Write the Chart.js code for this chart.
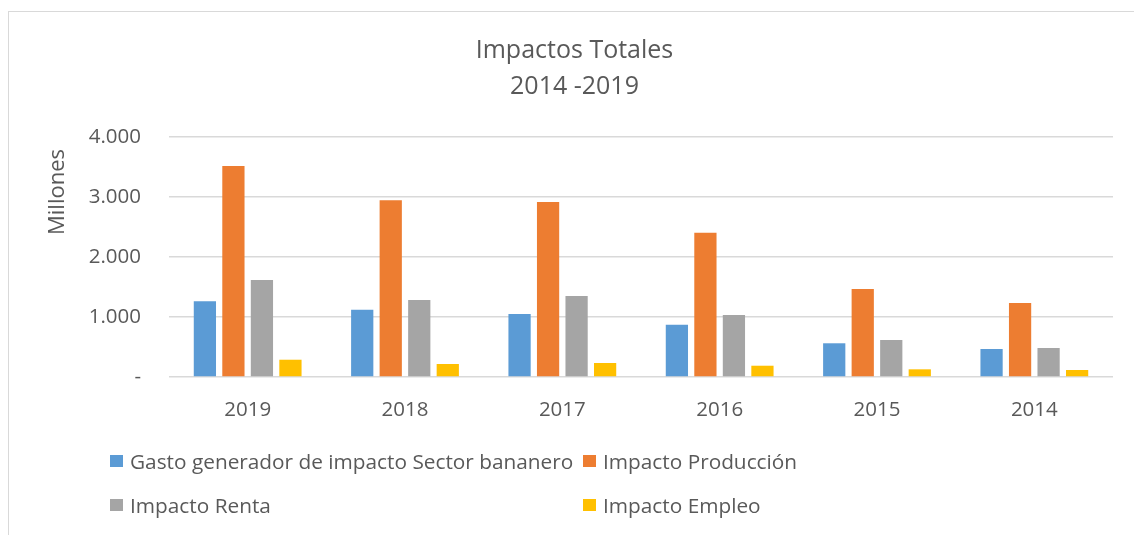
<!DOCTYPE html>
<html>
<head>
<meta charset="utf-8">
<script src="https://cdn.jsdelivr.net/npm/chart.js@4/dist/chart.umd.min.js"></script>
<style>
  html, body { margin: 0; padding: 0; background: #ffffff; }
  #wrap { position: relative; width: 1134px; height: 535px; overflow: hidden; }
  #frame { position: absolute; left: 8px; top: 11px; width: 1200px; height: 600px;
           border-left: 1px solid #d9d9d9; border-top: 1px solid #d9d9d9; box-sizing: border-box; }
  #c { position: absolute; left: 0; top: 0; }
  .leg { position: absolute; font-family: "Open Sans", sans-serif; font-size: 20.8px; color: #595959;
         white-space: nowrap; line-height: 24px; }
  .leg .sw { position: absolute; width: 13px; height: 12px; left: 0; top: 6px; }
  .leg .tx { position: absolute; left: 20px; top: 0; }
</style>
</head>
<body>
<div id="wrap">
  <div id="frame"></div>
  <canvas id="c" width="1134" height="535"></canvas>
  <div id="legend"></div>
</div>
<script>
const categories = ['2019', '2018', '2017', '2016', '2015', '2014'];
const gastoSector = [1262, 1122, 1050, 872, 562, 467];
const impactoProduccion = [3517, 2945, 2917, 2405, 1467, 1233];
const impactoRenta = [1617, 1283, 1350, 1033, 617, 483];
const impactoEmpleo = [288, 217, 233, 188, 128, 117];
const seriesNames = ['Gasto generador de impacto Sector bananero', 'Impacto Producción', 'Impacto Renta', 'Impacto Empleo'];
const seriesColors = ['#5B9BD5', '#ED7D31', '#A5A5A5', '#FFC000'];
const titleLines = ['Impactos Totales', '2014 -2019'];
const yAxisTitle = 'Millones';

const textColor = '#595959';
const fontFam = '"Open Sans", sans-serif';

function fmt(v) {
  if (v === 0) return '-';
  return String(v).replace(/\B(?=(\d{3})+(?!\d))/g, '.');
}

const yTitlePlugin = {
  id: 'yTitle',
  afterDraw(chart) {
    const ctx = chart.ctx;
    ctx.save();
    ctx.translate(58, 192);
    ctx.rotate(-Math.PI / 2);
    ctx.font = '22px ' + fontFam;
    ctx.fillStyle = textColor;
    ctx.textAlign = 'center';
    ctx.textBaseline = 'middle';
    ctx.fillText(yAxisTitle, 0, 0);
    ctx.restore();
  }
};

const seriesData = [gastoSector, impactoProduccion, impactoRenta, impactoEmpleo];

const chart = new Chart(document.getElementById('c'), {
  type: 'bar',
  data: {
    labels: categories,
    datasets: seriesData.map((d, i) => ({
      label: seriesNames[i],
      data: d,
      backgroundColor: seriesColors[i],
      borderWidth: 0,
      barPercentage: 0.78,
      categoryPercentage: 0.725
    }))
  },
  options: {
    responsive: false,
    animation: false,
    devicePixelRatio: 1,
    layout: { padding: { left: 36, right: 21, top: 0, bottom: 0 } },
    plugins: {
      legend: { display: false },
      tooltip: { enabled: false },
      title: {
        display: true,
        text: titleLines,
        color: textColor,
        font: { family: fontFam, size: 25, weight: 'normal', lineHeight: 1.44 },
        padding: { top: 33, bottom: 32 }
      }
    },
    scales: {
      x: {
        grid: { display: false },
        border: { display: false },
        ticks: { color: textColor, font: { family: fontFam, size: 20.5 }, padding: 13 },
        afterFit(scale) { scale.height = 158; }
      },
      y: {
        min: 0, max: 4000,
        grid: { color: '#d9d9d9', lineWidth: 1.5, drawTicks: false },
        border: { display: false },
        ticks: {
          stepSize: 1000,
          color: textColor,
          font: { family: fontFam, size: 20.5 },
          padding: 28,
          callback: (v) => fmt(v)
        },
        afterFit(scale) { scale.width = 133; }
      }
    }
  },
  plugins: [yTitlePlugin]
});

// HTML legend in Excel-style two-column layout
const legendPos = [[110, 449], [583, 449], [110, 493], [583, 493]];
const legEl = document.getElementById('legend');
chart.data.datasets.forEach((ds, i) => {
  const item = document.createElement('div');
  item.className = 'leg';
  item.style.left = legendPos[i][0] + 'px';
  item.style.top = legendPos[i][1] + 'px';
  const sw = document.createElement('span');
  sw.className = 'sw';
  sw.style.background = ds.backgroundColor;
  const tx = document.createElement('span');
  tx.className = 'tx';
  tx.textContent = ds.label;
  item.appendChild(sw);
  item.appendChild(tx);
  legEl.appendChild(item);
});
</script>
</body>
</html>
